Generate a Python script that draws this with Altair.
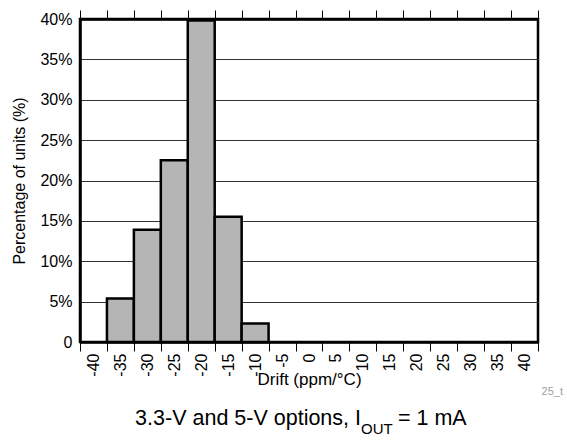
import altair as alt
import pandas as pd

# Drift histogram: bin centres (ppm/°C) and share of units in each bin (%)
bins = [-40, -35, -30, -25, -20, -15, -10, -5, 0, 5, 10, 15, 20, 25, 30, 35, 40]
share = [0, 5.4, 13.9, 22.5, 39.8, 15.5, 2.3, 0, 0, 0, 0, 0, 0, 0, 0, 0, 0]
y_ticks = [0, 5, 10, 15, 20, 25, 30, 35, 40]

caption_main = "3.3-V and 5-V options, I"
caption_sub = "OUT"
caption_tail = " = 1 mA"
figure_tag = "25_t"

FONT = "Liberation Sans"
bin_labels = [str(b) for b in bins]
df = pd.DataFrame({"bin": bin_labels, "share": share})

x_scale = alt.Scale(domain=bin_labels, paddingInner=0, paddingOuter=0)
y_scale = alt.Scale(domain=[0, 40], nice=False)

y_enc = alt.Y(
    "share:Q",
    scale=y_scale,
    axis=alt.Axis(
        title="Percentage of units (%)",
        values=y_ticks,
        labelExpr="datum.value == 0 ? '0' : datum.value + '%'",
        grid=True,
        gridColor="#333333",
        gridWidth=1,
        ticks=False,
        tickSize=0,
        labelPadding=8,
        labelFontSize=16,
        labelColor="black",
        titleFontSize=16,
        titleFontWeight="normal",
        titleColor="black",
        titleX=-56,
        titleBaseline="alphabetic",
        domainColor="black",
        domainWidth=2.5,
    ),
)

bars = (
    alt.Chart(df)
    .transform_filter("datum.share > 0")
    .mark_bar(fill="#b5b5b5", stroke="black", strokeWidth=2.5)
    .encode(
        x=alt.X(
            "bin:O",
            scale=x_scale,
            sort=bin_labels,
            axis=alt.Axis(
                title="Drift (ppm/°C)",
                orient="bottom",
                labelAngle=-90,
                tickBand="extent",
                tickSize=9,
                tickColor="black",
                tickWidth=1,
                labelPadding=2,
                labelFontSize=16,
                labelColor="black",
                titleFontSize=17,
                titleFontWeight="normal",
                titleColor="black",
                titleY=42,
                titleBaseline="alphabetic",
                domainColor="black",
                domainWidth=2.5,
            ),
        ),
        y=y_enc,
    )
)

# second copy only carries the tick marks along the top edge
top_ticks = (
    alt.Chart(df)
    .mark_bar(opacity=0)
    .encode(
        x=alt.X(
            "bin:O",
            scale=x_scale,
            sort=bin_labels,
            axis=alt.Axis(
                title=None,
                orient="top",
                labels=False,
                tickBand="extent",
                tickSize=9,
                tickColor="black",
                tickWidth=1,
                domainColor="black",
                domainWidth=2.5,
            ),
        ),
        y=y_enc,
    )
)

def note(text, x, y, size, align, color="black"):
    return (
        alt.Chart(pd.DataFrame({"t": [text]}))
        .mark_text(font=FONT, fontSize=size, align=align, baseline="alphabetic", color=color)
        .encode(text="t:N", x=alt.value(x), y=alt.value(y))
    )

caption = (
    note(caption_main, 281, 406, 21.5, "right")
    + note(caption_sub, 281, 415, 15, "left")
    + note(caption_tail, 318, 406, 21.5, "left")
)
tag = note(figure_tag, 483, 376, 11, "right", color="#a0a0a0")

chart = (
    alt.layer(bars, top_ticks, caption, tag)
    .resolve_axis(x="independent")
    .properties(
        width=458,
        height=323,
        padding={"left": 80, "top": 19, "right": 29, "bottom": 98},
        autosize=alt.AutoSizeParams(type="none"),
        background="white",
    )
    .configure(font=FONT)
    .configure_view(stroke="black", strokeWidth=2.5)
)

chart.save("out.html", embed_options={"renderer": "svg", "actions": False})
